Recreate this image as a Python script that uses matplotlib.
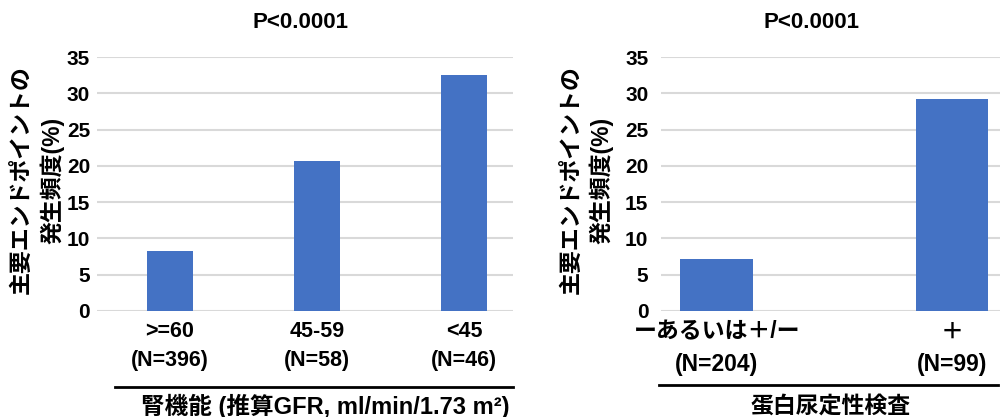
import matplotlib
matplotlib.use("Agg")
import matplotlib.pyplot as plt

plt.rcParams['font.family'] = ['Liberation Sans', 'Noto Sans CJK JP', 'DejaVu Sans']
plt.rcParams['font.weight'] = 'bold'

# data
gfr_labels = [">=60\n(N=396)", "45-59\n(N=58)", "<45\n(N=46)"]
gfr_values = [8.3, 20.7, 32.5]
prot_labels = ["ーあるいは＋/ー\n(N=204)", "＋\n(N=99)"]
prot_values = [7.1, 29.2]
y_ticks = [0, 5, 10, 15, 20, 25, 30, 35]
p_text = "P<0.0001"
ylabel = "主要エンドポイントの\n発生頻度(%)"
gfr_xlabel = "腎機能 (推算GFR, ml/min/1.73 m²)"
prot_xlabel = "蛋白尿定性検査"

bar_color = "#4472C4"
grid_color = "#d9d9d9"

fig = plt.figure(figsize=(10.03, 4.17), dpi=100)
ax1 = fig.add_axes([0.0967, 0.2542, 0.4148, 0.609])
ax2 = fig.add_axes([0.659, 0.2542, 0.338, 0.609])


def style(ax, labels, values, width, xlim, tick_pad, xt_size, label_x, line_x0, line_x1, line_y, title_x):
    x = list(range(len(values)))
    ax.bar(x, values, width=width, color=bar_color, zorder=3)
    ax.set_ylim(0, 35)
    ax.set_xlim(*xlim)
    ax.set_yticks(y_ticks)
    ax.set_xticks(x)
    ax.set_xticklabels(labels, fontsize=xt_size, fontweight='bold', linespacing=1.5)
    ax.tick_params(axis='x', length=0, pad=7)
    ax.tick_params(axis='y', length=0, pad=tick_pad, labelsize=15)
    for lab in ax.get_yticklabels():
        lab.set_fontweight('bold')
    ax.grid(axis='y', color=grid_color, linewidth=1.5, zorder=0)
    for s in ax.spines.values():
        s.set_visible(False)
    ax.set_ylabel(ylabel, fontsize=16.5, fontweight='bold', linespacing=1.35)
    ax.yaxis.set_label_coords(label_x, 0.516)
    ax.plot([line_x0, line_x1], [line_y, line_y], color='black', linewidth=2,
            transform=ax.transAxes, clip_on=False)
    ax.text(title_x, 1.138, p_text, transform=ax.transAxes, ha='center', va='center',
            fontsize=16, fontweight='bold')


style(ax1, gfr_labels, gfr_values, 0.31, (-0.497, 2.333), 5, 15.5,
      -0.079, 0.043, 1.0, -0.299, 0.488)
style(ax2, prot_labels, prot_values, 0.31, (-0.238, 1.204), 9, 16.5,
      -0.139, -0.006, 0.994, -0.291, 0.445)

ax1.text(0.548, -0.375, gfr_xlabel, transform=ax1.transAxes, ha='center', va='center',
         fontsize=17, fontweight='bold')
ax2.text(0.5, -0.375, prot_xlabel, transform=ax2.transAxes, ha='center', va='center',
         fontsize=16.5, fontweight='bold')

fig.savefig("out.png", dpi=100)
